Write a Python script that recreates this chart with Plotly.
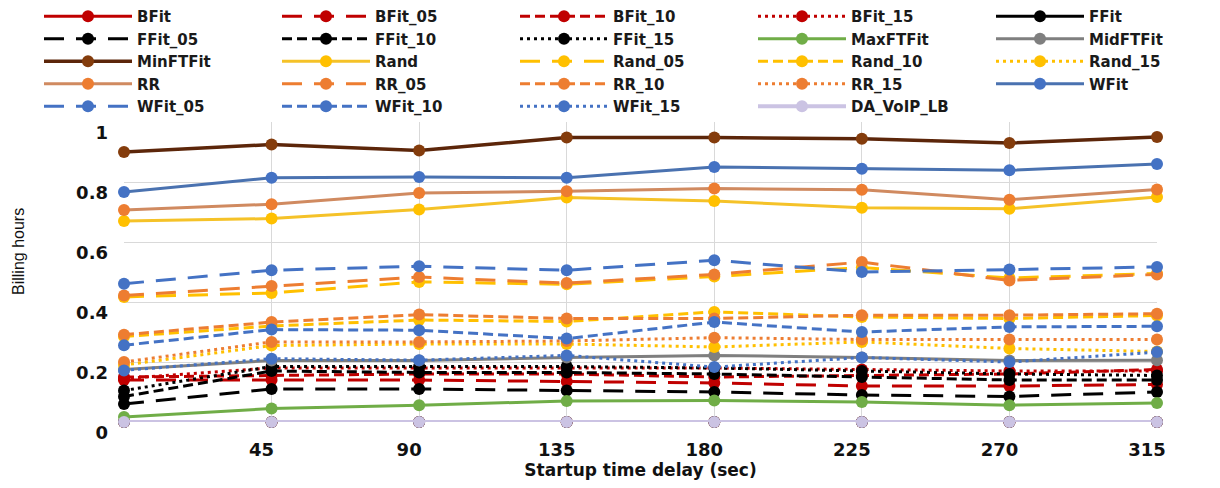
import plotly.graph_objects as go

# ---------------- data ----------------
delay = [0, 45, 90, 135, 180, 225, 270, 315]
delay_labels = ["", "45", "90", "135", "180", "225", "270", "315"]
y_ticks = [0, 0.2, 0.4, 0.6, 0.8, 1]
y_tick_labels = ["0", "0.2", "0.4", "0.6", "0.8", "1"]

BFit       = [0.0, 0.0, 0.0, 0.0, 0.0, 0.0, 0.0, 0.0]
BFit_05    = [0.14, 0.14, 0.14, 0.135, 0.13, 0.12, 0.12, 0.125]
BFit_10    = [0.15, 0.155, 0.16, 0.16, 0.15, 0.155, 0.16, 0.175]
BFit_15    = [0.145, 0.18, 0.18, 0.18, 0.18, 0.175, 0.17, 0.17]
FFit       = [0.0, 0.0, 0.0, 0.0, 0.0, 0.0, 0.0, 0.0]
FFit_05    = [0.06, 0.11, 0.11, 0.105, 0.1, 0.09, 0.085, 0.1]
FFit_10    = [0.085, 0.17, 0.165, 0.165, 0.16, 0.15, 0.14, 0.14]
FFit_15    = [0.105, 0.185, 0.185, 0.185, 0.18, 0.17, 0.16, 0.155]
MaxFTFit   = [0.017, 0.045, 0.056, 0.07, 0.072, 0.067, 0.056, 0.063]
MidFTFit   = [0.175, 0.205, 0.205, 0.215, 0.222, 0.215, 0.205, 0.206]
MinFTFit   = [0.90, 0.925, 0.905, 0.948, 0.948, 0.944, 0.93, 0.95]
Rand       = [0.670, 0.678, 0.708, 0.748, 0.737, 0.714, 0.711, 0.75]
Rand_05    = [0.417, 0.43, 0.467, 0.459, 0.485, 0.515, 0.48, 0.495]
Rand_10    = [0.285, 0.32, 0.34, 0.335, 0.367, 0.35, 0.345, 0.355]
Rand_15    = [0.19, 0.255, 0.26, 0.26, 0.25, 0.267, 0.245, 0.235]
RR         = [0.707, 0.726, 0.763, 0.769, 0.778, 0.774, 0.741, 0.775]
RR_05      = [0.422, 0.453, 0.483, 0.463, 0.492, 0.533, 0.472, 0.492]
RR_10      = [0.291, 0.333, 0.358, 0.345, 0.345, 0.356, 0.356, 0.361]
RR_15      = [0.2, 0.267, 0.267, 0.27, 0.281, 0.275, 0.275, 0.275]
WFit       = [0.767, 0.814, 0.817, 0.814, 0.85, 0.844, 0.839, 0.86]
WFit_05    = [0.461, 0.506, 0.519, 0.506, 0.539, 0.5, 0.508, 0.517]
WFit_10    = [0.256, 0.308, 0.306, 0.278, 0.333, 0.3, 0.317, 0.319]
WFit_15    = [0.172, 0.211, 0.206, 0.222, 0.183, 0.215, 0.2, 0.233]
DA_VoIP_LB = [0.0, 0.0, 0.0, 0.0, 0.0, 0.0, 0.0, 0.0]

series_names = ["BFit", "BFit_05", "BFit_10", "BFit_15", "FFit",
                "FFit_05", "FFit_10", "FFit_15", "MaxFTFit", "MidFTFit",
                "MinFTFit", "Rand", "Rand_05", "Rand_10", "Rand_15",
                "RR", "RR_05", "RR_10", "RR_15", "WFit",
                "WFit_05", "WFit_10", "WFit_15", "DA_VoIP_LB"]
series_values = [BFit, BFit_05, BFit_10, BFit_15, FFit,
                 FFit_05, FFit_10, FFit_15, MaxFTFit, MidFTFit,
                 MinFTFit, Rand, Rand_05, Rand_10, Rand_15,
                 RR, RR_05, RR_10, RR_15, WFit,
                 WFit_05, WFit_10, WFit_15, DA_VoIP_LB]

# ---------------- styles ----------------
LONG = "20px,12px"
DASH = "10px,5px"
DOT = "3px,4px"
# (line colour, marker colour, dash, line width)
styles = {
    "BFit": ("#C00000", "#C00000", "solid", 3),
    "BFit_05": ("#C00000", "#C00000", LONG, 3),
    "BFit_10": ("#C00000", "#C00000", DASH, 3),
    "BFit_15": ("#C00000", "#C00000", DOT, 3),
    "FFit": ("#000000", "#000000", "solid", 3),
    "FFit_05": ("#000000", "#000000", LONG, 3),
    "FFit_10": ("#000000", "#000000", DASH, 3),
    "FFit_15": ("#000000", "#000000", DOT, 3),
    "MaxFTFit": ("#70AD47", "#70AD47", "solid", 3),
    "MidFTFit": ("#7F7F7F", "#7F7F7F", "solid", 3),
    "MinFTFit": ("#5C260A", "#843C0C", "solid", 3.5),
    "Rand": ("#F5C228", "#FFC000", "solid", 3),
    "Rand_05": ("#FFC000", "#FFC000", LONG, 3),
    "Rand_10": ("#FFC000", "#FFC000", DASH, 3),
    "Rand_15": ("#FFC000", "#FFC000", DOT, 3),
    "RR": ("#D08A60", "#ED7D31", "solid", 3),
    "RR_05": ("#ED7D31", "#ED7D31", LONG, 3),
    "RR_10": ("#ED7D31", "#ED7D31", DASH, 3),
    "RR_15": ("#ED7D31", "#ED7D31", DOT, 3),
    "WFit": ("#4A72B0", "#4472C4", "solid", 3),
    "WFit_05": ("#4472C4", "#4472C4", LONG, 3),
    "WFit_10": ("#4472C4", "#4472C4", DASH, 3),
    "WFit_15": ("#4472C4", "#4472C4", DOT, 3),
    "DA_VoIP_LB": ("#CBC3E3", "#CBC3E3", "solid", 4),
}

# ---------------- layout geometry ----------------
# the page body adds an 8px offset, so the figure is 8px smaller
W, H = 1212, 480
ML, MR, MT, MB = 116, 63, 114, 66
PW = W - ML - MR
PH = H - MT - MB
col_px = [31 + 238 * k for k in range(5)]   # left edge of each legend column
legend_top_px = -8

fig = go.Figure()
legend_ids = ["legend", "legend2", "legend3", "legend4", "legend5"]
for i, (name, vals) in enumerate(zip(series_names, series_values)):
    lc, mc, dash, lw = styles[name]
    fig.add_trace(go.Scatter(
        x=delay, y=vals, name=name, mode="lines+markers",
        line=dict(color=lc, width=lw, dash=dash),
        marker=dict(color=mc, size=12, symbol="circle"),
        cliponaxis=False,
        legend=legend_ids[i % 5],
    ))

legend_font = dict(family="DejaVu Sans", size=15, color="#1a1a1a", weight="bold")
leg_layout = {}
for k, lid in enumerate(legend_ids):
    leg_layout[lid] = dict(
        x=(col_px[k] - ML) / PW, xanchor="left",
        y=(H - MB - legend_top_px) / PH, yanchor="top",
        orientation="v", font=legend_font, itemwidth=88,
        bgcolor="rgba(0,0,0,0)", borderwidth=0, tracegroupgap=0,
    )

fig.update_layout(
    width=W, height=H,
    margin=dict(l=ML, r=MR, t=MT, b=MB, autoexpand=False),
    paper_bgcolor="white", plot_bgcolor="white",
    showlegend=True,
    **leg_layout,
    xaxis=dict(
        range=[0, 315], tickvals=delay, ticktext=delay_labels,
        showgrid=True, gridcolor="#D9D9D9", gridwidth=1.2,
        zeroline=False, showline=False, ticks="",
        tickfont=dict(family="DejaVu Sans", size=18, color="#111", weight="bold"),
        ticklabelstandoff=15, ticklabelshift=-10,
        title=dict(text="Startup time delay (sec)", standoff=4,
                   font=dict(family="DejaVu Sans", size=17, color="#111", weight="bold")),
    ),
    yaxis=dict(
        range=[0, 1], tickvals=y_ticks, ticktext=y_tick_labels,
        showgrid=True, gridcolor="#D9D9D9", gridwidth=1.2,
        zeroline=False, showline=False, ticks="",
        tickfont=dict(family="DejaVu Sans", size=18, color="#111", weight="bold"),
        ticklabelstandoff=15, ticklabelshift=11,
    ),
    annotations=[dict(
        text="Billing hours", xref="paper", yref="paper",
        x=(10 - ML) / PW, y=(H - MB - 244) / PH, textangle=-90,
        showarrow=False, xanchor="center", yanchor="middle",
        font=dict(family="Liberation Sans, Arial, sans-serif", size=16, color="#111"),
    )],
)

fig.write_html("out.html")
